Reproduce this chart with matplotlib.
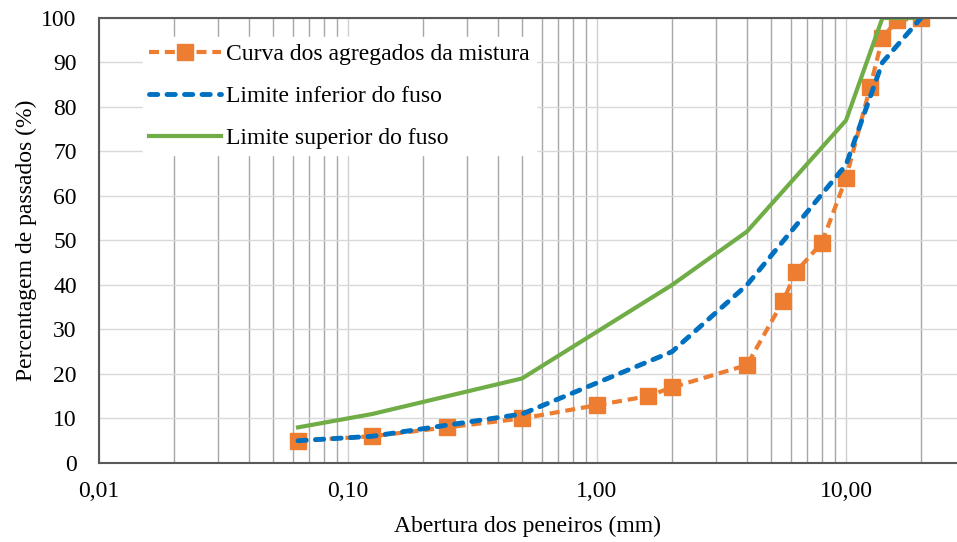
import numpy as np
import matplotlib.pyplot as plt
from matplotlib.ticker import FixedLocator, FuncFormatter, LogLocator, NullFormatter

# sieve openings (mm) and percent passing
peneiras = [0.063, 0.125, 0.25, 0.5, 1.0, 1.6, 2.0, 4.0, 5.6, 6.3, 8.0, 10.0, 12.5, 14.0, 16.0, 20.0]
curva_mistura = [5, 6, 8, 10, 13, 15, 17, 22, 36.5, 43, 49.5, 64, 84.5, 95.5, 99.5, 100]

peneiras_fuso = [0.063, 0.125, 0.5, 2.0, 4.0, 10.0, 14.0, 20.0]
limite_inferior = [5, 6, 11, 25, 40, 67, 90, 100]
limite_superior = [8, 11, 19, 40, 52, 77, 100, 100]

x_ticks = [0.01, 0.1, 1.0, 10.0]
y_ticks = list(range(0, 101, 10))

plt.rcParams["font.family"] = ["Liberation Serif", "DejaVu Serif"]

fig = plt.figure(figsize=(9.57, 5.42), dpi=100)
ax = fig.add_axes([0.1034, 0.1458, 0.8966, 0.821])

ax.set_xscale("log")
ax.set_xlim(0.01, 27.9)
ax.set_ylim(0, 100)

# grid: minor verticals darker than majors, as in the Excel original
ax.xaxis.set_major_locator(FixedLocator(x_ticks))
ax.xaxis.set_minor_locator(LogLocator(base=10, subs=np.arange(2, 10)))
ax.xaxis.set_minor_formatter(NullFormatter())
ax.xaxis.set_major_formatter(FuncFormatter(lambda v, p: f"{v:.2f}".replace(".", ",")))
ax.yaxis.set_major_locator(FixedLocator(y_ticks))
ax.grid(True, which="minor", axis="x", color="#A6A6A6", lw=1.0)
ax.grid(True, which="major", axis="x", color="#D0D0D0", lw=1.0)
ax.grid(True, which="major", axis="y", color="#D9D9D9", lw=1.0)
ax.set_axisbelow(True)

ax.plot(peneiras, curva_mistura, color="#ED7D31", lw=3, ls=(0, (2.4, 1.4)),
        marker="s", markersize=11, label="Curva dos agregados da mistura", zorder=2)
ax.plot(peneiras_fuso, limite_inferior, color="#0070C0", lw=3.5, ls=(0, (1.7, 1.9)),
        dash_capstyle="round", label="Limite inferior do fuso", zorder=3)
ax.plot(peneiras_fuso, limite_superior, color="#70AD47", lw=3, ls="-",
        label="Limite superior do fuso", zorder=2)

for side in ["left", "bottom", "top"]:
    ax.spines[side].set_color("#595959")
    ax.spines[side].set_linewidth(1.5)
    ax.spines[side].set_zorder(6)
ax.spines["right"].set_visible(False)

ax.tick_params(axis="both", which="both", length=0, labelsize=17, colors="black")
ax.tick_params(axis="y", pad=16)
ax.tick_params(axis="x", pad=13)

ax.set_xlabel("Abertura dos peneiros (mm)", fontsize=17, labelpad=10)
ax.set_ylabel("Percentagem de passados (%)", fontsize=17, labelpad=3)

leg = ax.legend(loc="upper left", bbox_to_anchor=(0.038, 0.983), fontsize=17,
                frameon=True, fancybox=False, facecolor="white", edgecolor="white",
                framealpha=1, handlelength=3.05, labelspacing=0.87,
                borderpad=0.25, handletextpad=0.2)

fig.savefig("out.png", dpi=100)
